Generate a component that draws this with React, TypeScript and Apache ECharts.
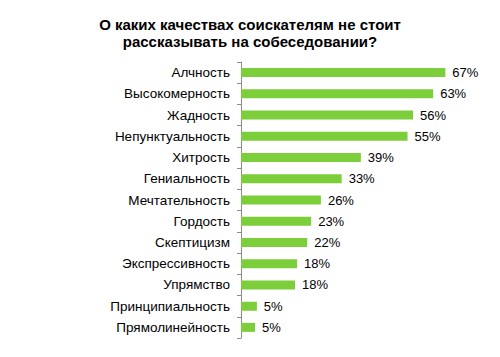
import React, { useEffect, useRef } from "react";
import * as echarts from "echarts";

const titleText = "О каких качествах соискателям не стоит\nрассказывать на собеседовании?";
const categories = [
  "Алчность",
  "Высокомерность",
  "Жадность",
  "Непунктуальность",
  "Хитрость",
  "Гениальность",
  "Мечтательность",
  "Гордость",
  "Скептицизм",
  "Экспрессивность",
  "Упрямство",
  "Принципиальность",
  "Прямолинейность",
];
const values = [67, 63, 56.4, 54.6, 39.3, 33, 26.2, 23, 21.7, 18.4, 17.7, 5.2, 4.6];

const FONT = "'Liberation Sans', Arial, sans-serif";

export default function App() {
  const ref = useRef<HTMLDivElement>(null);
  useEffect(() => {
    const chart = echarts.init(ref.current!, null, { renderer: "svg" });
    chart.setOption({
      animation: false,
      backgroundColor: "#ffffff",
      title: {
        text: titleText,
        left: "center",
        top: 11,
        textStyle: {
          fontFamily: FONT,
          fontSize: 15,
          fontWeight: "bold",
          color: "#000000",
          lineHeight: 17,
        },
      },
      grid: { left: 241, right: 15, top: 62, bottom: 19, containLabel: false },
      xAxis: {
        type: "value",
        min: 0,
        max: 80,
        show: false,
      },
      yAxis: {
        type: "category",
        data: categories,
        inverse: true,
        axisLine: { show: true, lineStyle: { color: "#8c8c8c", width: 1 } },
        axisTick: { show: true, length: 4, lineStyle: { color: "#8c8c8c" } },
        axisLabel: {
          margin: 11,
          fontFamily: FONT,
          fontSize: 13.5,
          color: "#000000",
        },
        splitLine: { show: false },
      },
      series: [
        {
          type: "bar",
          data: values,
          barWidth: 9,
          itemStyle: { color: "#7cce3a" },
          label: {
            show: true,
            position: "right",
            distance: 7,
            fontFamily: FONT,
            fontSize: 13,
            color: "#000000",
            formatter: (p: any) => Math.round(p.value) + "%",
          },
        },
      ],
    });
    return () => chart.dispose();
  }, []);
  return (
    <div
      ref={ref}
      style={{ position: "fixed", left: 0, top: 0, width: 500, height: 357 }}
    />
  );
}
